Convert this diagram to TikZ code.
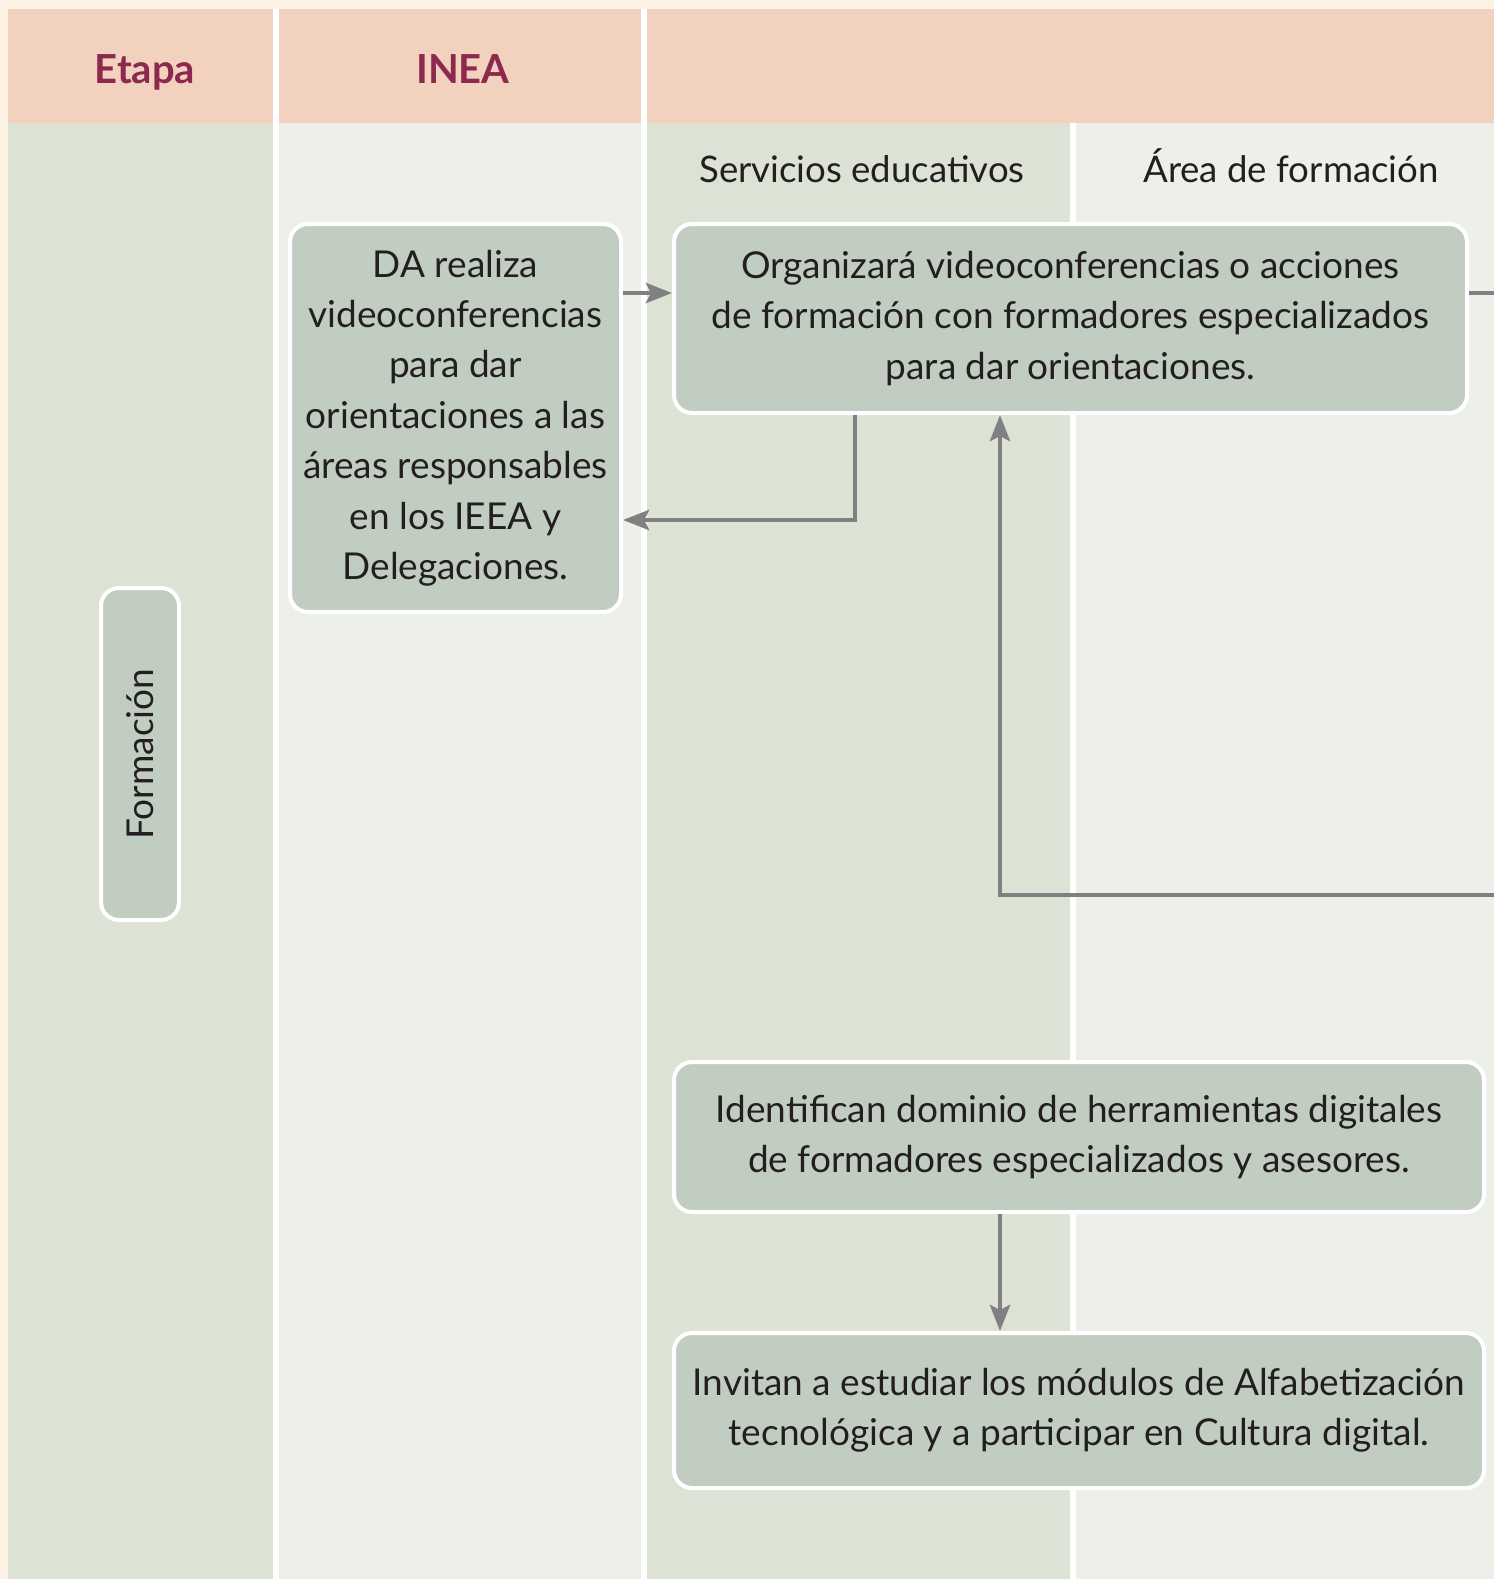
\documentclass[tikz,border=0pt]{standalone}
\usepackage{fontspec}
\setmainfont{Lato}
\usetikzlibrary{arrows.meta,calc}
\definecolor{cream}{HTML}{FDF3E4}
\definecolor{hdr}{HTML}{F2D1BF}
\definecolor{sage}{HTML}{DCE2D4}
\definecolor{lite}{HTML}{ECF0E9}
\definecolor{boxfill}{HTML}{C2CDC1}
\definecolor{arrgray}{HTML}{808083}
\definecolor{maroon}{HTML}{8B2A4C}
\definecolor{ink}{HTML}{231F20}
\tikzset{
  box/.style={draw=white, line width=2pt, fill=boxfill, rounded corners=9pt,
    text=ink, align=center, inner sep=0pt,
    font=\fontsize{18.5}{25.2}\selectfont},
  hdrtext/.style={text=maroon, anchor=base, font=\fontsize{20}{24}\selectfont\bfseries},
  subhdr/.style={text=ink, anchor=base, font=\fontsize{18.3}{25}\selectfont},
  conn/.style={draw=arrgray, line width=2.4pt},
  arr/.style={conn, -{Stealth[length=13pt,width=10pt,inset=2.5pt]}}
}
\begin{document}
\begin{tikzpicture}[x=0.5pt,y=-0.5pt]
\useasboundingbox (0,0) rectangle (1494,1579);
\fill[cream] (0,0) rectangle (1494,1579);
\fill[white] (8,9) rectangle (1494,1579);
% header
\fill[hdr] (8,9) rectangle (273,123);
\fill[hdr] (279,9) rectangle (641,123);
\fill[hdr] (647,9) rectangle (1494,123);
% body columns
\fill[sage] (8,123) rectangle (273,1579);
\fill[lite] (279,123) rectangle (641,1579);
\fill[sage] (647,123) rectangle (1070,1579);
\fill[lite] (1076,123) rectangle (1494,1579);
% header texts
\node[hdrtext] (etapa) at (145,83) {Etapa};
\node[hdrtext] (inea) at (463,83) {INEA};
\node[subhdr] (se) at (862,182) {Servicios educativos};
\node[subhdr] (af) at (1291,182) {Área de formación};
% boxes
\node[box, minimum width=165.5pt, minimum height=194pt] (da) at (455.5,418)
  {DA realiza\\videoconferencias\\para dar\\orientaciones a las\\áreas responsables\\en los IEEA y\\Delegaciones.};
\node[box, minimum width=396.5pt, minimum height=94.5pt] (org) at (1070.5,318.5)
  {Organizará videoconferencias o acciones\\de formación con formadores especializados\\para dar orientaciones.};
\node[box, rotate=90, minimum width=166pt, minimum height=39pt] (fm) at (140,754) {Formación};
\node[box, minimum width=405pt, minimum height=75pt] (ident) at (1079,1137)
  {Identifican dominio de herramientas digitales\\de formadores especializados y asesores.};
\node[box, minimum width=405pt, minimum height=77.5pt] (inv) at (1079,1410.5)
  {Invitan a estudiar los módulos de Alfabetización\\tecnológica y a participar en Cultura digital.};
% connectors
\coordinate (rtop) at (1494,293);
\coordinate (rmid) at (1494,895);
\draw[arr] (da.east |- 0,293) -- (org.west |- 0,293);
\draw[conn] (org.east |- 0,293) -- (rtop);
\draw[arr] (org.south -| 855,0) |- (da.east |- 0,520);
\draw[arr] (rmid) -| (org.south -| 1000,0);
\draw[arr] (ident.south -| 1000,0) -- (inv.north -| 1000,0);
\end{tikzpicture}
\end{document}
